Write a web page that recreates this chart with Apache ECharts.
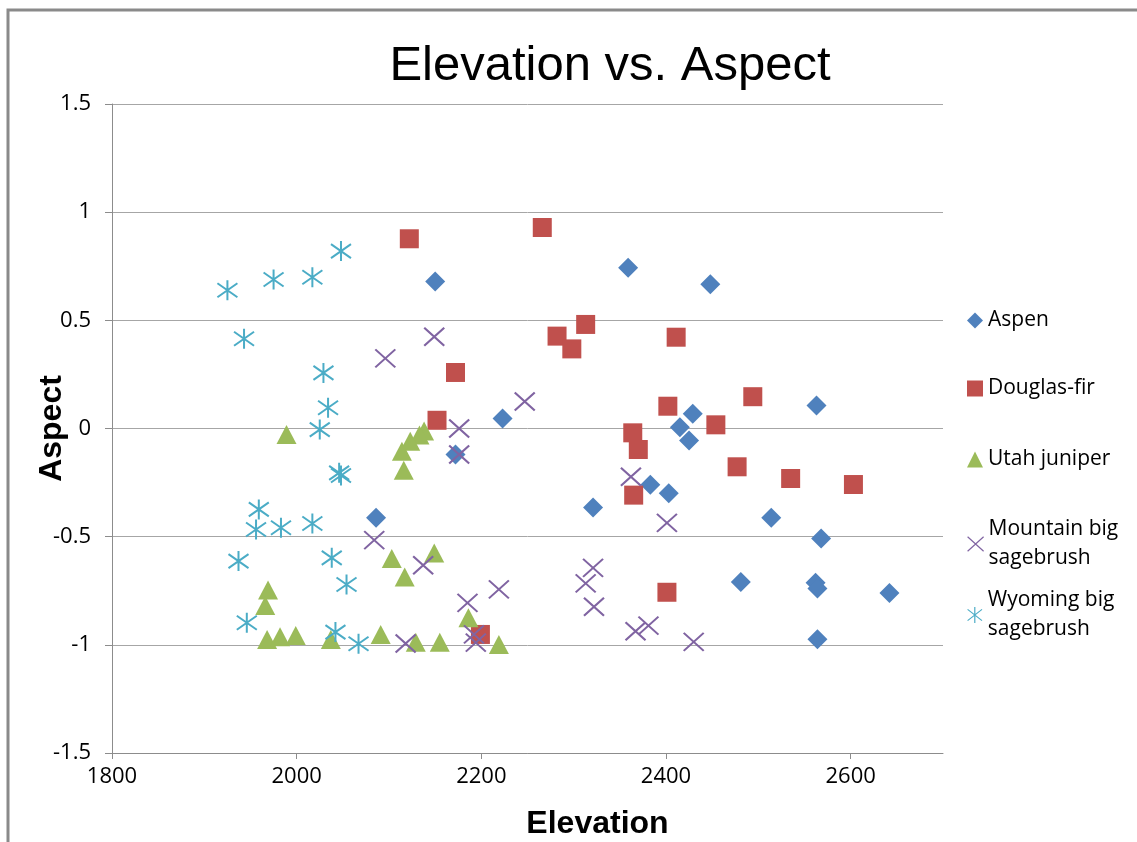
<!DOCTYPE html>
<html>
<head>
<meta charset="utf-8">
<title>Elevation vs. Aspect</title>
<script src="https://cdn.jsdelivr.net/npm/echarts@6/dist/echarts.min.js"></script>
<style>
  html, body { margin: 0; padding: 0; background: #fff; }
  #chart { width: 1137px; height: 842px; }
</style>
</head>
<body>
<div id="chart"></div>
<script>
  // [elevation, aspect]
  var aspen = [
    [2150, 0.68], [2223, 0.046], [2172, -0.12], [2086, -0.413], [2359, 0.743],
    [2448, 0.667], [2429, 0.068], [2415, 0.006], [2425, -0.055], [2563, 0.106],
    [2383, -0.26], [2403, -0.299], [2321, -0.365], [2514, -0.413], [2568, -0.508],
    [2481, -0.71], [2562, -0.713], [2564, -0.74], [2642, -0.76], [2564, -0.974]
  ]
  var douglasFir = [
    [2122, 0.877], [2172, 0.259], [2152, 0.038], [2199, -0.952], [2266, 0.929],
    [2313, 0.481], [2282, 0.427], [2298, 0.368], [2411, 0.422], [2402, 0.103],
    [2454, 0.017], [2494, 0.147], [2364, -0.02], [2370, -0.097], [2365, -0.308],
    [2477, -0.177], [2535, -0.231], [2603, -0.259], [2401, -0.757]
  ]
  var utahJuniper = [
    [1989, -0.028], [2138, -0.012], [2133, -0.03], [2123, -0.059], [2114, -0.105],
    [2116, -0.193], [1969, -0.747], [1966, -0.818], [1968, -0.975], [1982, -0.963],
    [1999, -0.957], [2037, -0.975], [2091, -0.952], [2103, -0.601], [2117, -0.686],
    [2149, -0.575], [2129, -0.988], [2155, -0.988], [2186, -0.875], [2219, -0.998]
  ]
  var mountainSage = [
    [2149, 0.424], [2096, 0.324], [2176, 0.0], [2176, -0.12], [2247, 0.125],
    [2084, -0.516], [2137, -0.632], [2185, -0.806], [2219, -0.744], [2118, -0.994],
    [2192, -0.952], [2194, -0.99], [2362, -0.223], [2401, -0.436], [2321, -0.644],
    [2313, -0.716], [2322, -0.824], [2367, -0.937], [2381, -0.911], [2430, -0.986]
  ]
  var wyomingSage = [
    [2048, 0.82], [2017, 0.699], [1975, 0.689], [1925, 0.639], [1943, 0.415],
    [2029, 0.257], [2034, 0.096], [2025, -0.005], [2046, -0.205], [2048, -0.217],
    [1959, -0.374], [1956, -0.467], [1983, -0.459], [2017, -0.439], [1937, -0.613],
    [2038, -0.598], [2054, -0.721], [1946, -0.898], [2042, -0.941], [2067, -0.995]
  ]
  var seriesNames = ['Aspen', 'Douglas-fir', 'Utah juniper', 'Mountain big sagebrush', 'Wyoming big sagebrush']
  var xTicks = [1800, 2000, 2200, 2400, 2600]

  var crossPath = 'path://M0 0L20 18M20 0L0 18'
  var starPath = 'path://M10 0L10 20M1 3L19 17M19 3L1 17'

  var legendFont = { fontFamily: 'Open Sans', fontSize: 21, color: '#000', lineHeight: 29 }
  function oneLegend (name, top, extra) {
    var l = {
      data: [name],
      left: 962,
      top: top,
      orient: 'vertical',
      itemWidth: 16,
      itemHeight: 16,
      itemGap: 0,
      selectedMode: false,
      textStyle: legendFont
    }
    for (var k in extra) l[k] = extra[k]
    return l
  }

  var chart = echarts.init(document.getElementById('chart'))
  var option = {
    animation: false,
    backgroundColor: '#fff',
    title: {
      text: 'Elevation vs. Aspect',
      left: 605,
      top: 37,
      textAlign: 'center',
      textStyle: { fontFamily: 'Liberation Sans', fontSize: 49, fontWeight: 'normal', color: '#000' }
    },
    grid: { left: 112, top: 104, right: 194, bottom: 89, outerBoundsMode: 'none' },
    legend: [
      oneLegend('Aspen', 301),
      oneLegend('Douglas-fir', 369),
      oneLegend('Utah juniper', 440),
      oneLegend('Mountain big sagebrush', 510, {
        formatter: function () { return 'Mountain big\nsagebrush' },
        itemStyle: { borderWidth: 1.2 }
      }),
      oneLegend('Wyoming big sagebrush', 581, {
        formatter: function () { return 'Wyoming big\nsagebrush' },
        itemStyle: { borderWidth: 1.2 }
      })
    ],
    xAxis: {
      type: 'value',
      min: 1800,
      max: 2700,
      interval: 100,
      name: 'Elevation',
      nameLocation: 'middle',
      nameGap: 55,
      nameMoveOverlap: false,
      nameTextStyle: {
        fontFamily: 'Liberation Sans', fontSize: 32, fontWeight: 'bold', color: '#000',
        padding: [0, 0, 0, 140]
      },
      axisLine: { show: true, onZero: false, lineStyle: { color: '#8c8c8c', width: 1 } },
      axisTick: { show: true, length: 6, customValues: xTicks, lineStyle: { color: '#8c8c8c' } },
      axisLabel: {
        customValues: xTicks, margin: 13,
        formatter: function (v) { return String(v) },
        fontFamily: 'Open Sans', fontSize: 22, color: '#000'
      },
      splitLine: { show: false }
    },
    yAxis: {
      type: 'value',
      min: -1.5,
      max: 1.5,
      interval: 0.5,
      name: 'Aspect',
      nameLocation: 'middle',
      nameRotate: 90,
      nameGap: 44,
      nameMoveOverlap: false,
      nameTextStyle: { fontFamily: 'Liberation Sans', fontSize: 32, fontWeight: 'bold', color: '#000' },
      axisLine: { show: true, lineStyle: { color: '#8c8c8c', width: 1 } },
      axisTick: { show: true, length: 7, lineStyle: { color: '#8c8c8c' } },
      axisLabel: {
        margin: 21,
        formatter: function (v) { return String(v) },
        fontFamily: 'Open Sans', fontSize: 22, color: '#000'
      },
      splitLine: { show: true, lineStyle: { color: '#a6a6a6', width: 1 } }
    },
    series: [
      {
        name: seriesNames[0], type: 'scatter', data: aspen,
        symbol: 'diamond', symbolSize: [20, 20],
        itemStyle: { color: '#4f81bd', opacity: 1 }
      },
      {
        name: seriesNames[1], type: 'scatter', data: douglasFir,
        symbol: 'rect', symbolSize: [19, 19],
        itemStyle: { color: '#c0504d', opacity: 1 }
      },
      {
        name: seriesNames[2], type: 'scatter', data: utahJuniper,
        symbol: 'triangle', symbolSize: [20, 19],
        itemStyle: { color: '#9bbb59', opacity: 1 }
      },
      {
        name: seriesNames[3], type: 'scatter', data: mountainSage,
        symbol: crossPath, symbolSize: [20, 18],
        itemStyle: { color: 'rgba(0,0,0,0)', borderColor: '#8064a2', borderWidth: 2, opacity: 1 }
      },
      {
        name: seriesNames[4], type: 'scatter', data: wyomingSage,
        symbol: starPath, symbolSize: [20, 20],
        itemStyle: { color: 'rgba(0,0,0,0)', borderColor: '#4bacc6', borderWidth: 2, opacity: 1 }
      }
    ],
    graphic: [
      {
        type: 'rect',
        shape: { x: 8, y: 10, width: 1160, height: 860 },
        style: { fill: 'none', stroke: '#8a8a8a', lineWidth: 3 },
        silent: true
      }
    ]
  }
  chart.setOption(option)
</script>
</body>
</html>
